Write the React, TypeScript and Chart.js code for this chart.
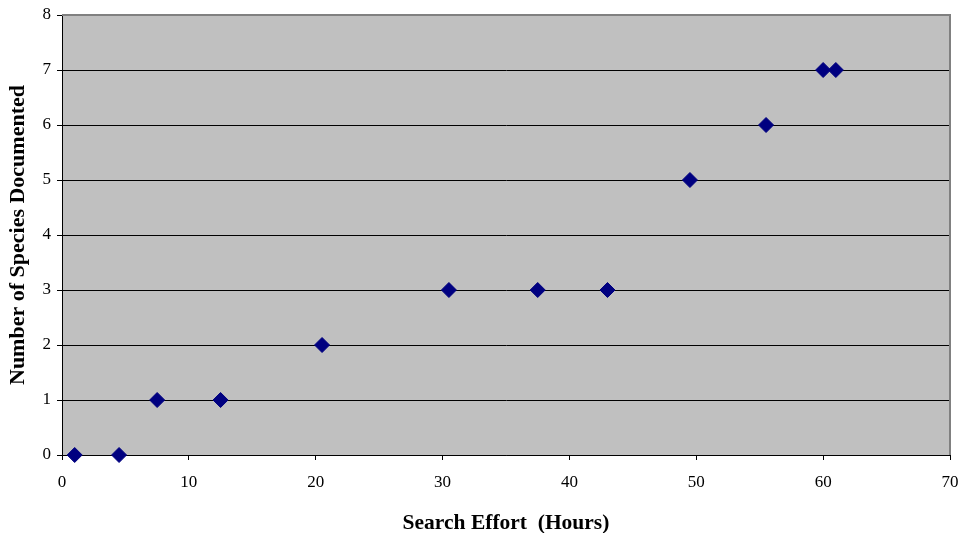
import React, { useEffect, useRef } from "react";
import { Chart, registerables } from "chart.js";

Chart.register(...registerables);

const effortHours = [1, 4.5, 7.5, 12.5, 20.5, 30.5, 37.5, 43, 49.5, 55.5, 60, 61];
const speciesCount = [0, 0, 1, 1, 2, 3, 3, 3, 5, 6, 7, 7];
const xTitle = "Search Effort  (Hours)";
const yTitle = "Number of Species Documented";

const plotFrame = {
  id: "plotFrame",
  beforeDraw(chart: any) {
    const { ctx, chartArea } = chart;
    ctx.save();
    ctx.fillStyle = "#c0c0c0";
    ctx.fillRect(chartArea.left, chartArea.top, chartArea.right - chartArea.left, chartArea.bottom - chartArea.top);
    ctx.restore();
  },
  beforeDatasetsDraw(chart: any) {
    const { ctx, chartArea } = chart;
    ctx.save();
    ctx.strokeStyle = "#808080";
    ctx.lineWidth = 2;
    ctx.beginPath();
    ctx.moveTo(chartArea.left, chartArea.top);
    ctx.lineTo(chartArea.right, chartArea.top);
    ctx.lineTo(chartArea.right, chartArea.bottom);
    ctx.stroke();
    ctx.restore();
  },
};

export default function App() {
  const ref = useRef<HTMLCanvasElement>(null);
  useEffect(() => {
    const data = effortHours.map((x, i) => ({ x, y: speciesCount[i] }));
    const chart = new Chart(ref.current!, {
      type: "scatter",
      data: {
        datasets: [
          {
            data,
            pointStyle: "rectRot",
            pointRadius: 7.5,
            pointHoverRadius: 7.5,
            backgroundColor: "#000080",
            borderColor: "#000080",
            borderWidth: 1,
            clip: false as any,
          },
        ],
      },
      plugins: [plotFrame],
      options: {
        animation: false,
        responsive: false,
        events: [],
        layout: { padding: { top: 15, right: 11, bottom: 0, left: 0 } },
        plugins: { legend: { display: false }, tooltip: { enabled: false } },
        scales: {
          x: {
            type: "linear",
            min: 0,
            max: 70,
            afterFit: (s: any) => {
              s.paddingLeft = 0;
              s.paddingRight = 0;
            },
            ticks: { stepSize: 10, color: "#000", padding: 12.8, font: { family: "Liberation Serif", size: 17 }, maxRotation: 0 },
            grid: { drawOnChartArea: false, drawTicks: true, tickLength: 5, color: "#000" },
            border: { color: "#000", width: 1 },
            title: {
              display: true,
              text: xTitle,
              color: "#000",
              font: { family: "Liberation Serif", size: 21.5, weight: "bold", lineHeight: 0.9 },
              padding: { top: 7.65, bottom: 0 },
            },
          },
          y: {
            type: "linear",
            min: 0,
            max: 8,
            afterFit: (s: any) => {
              s.paddingTop = 0;
              s.paddingBottom = 0;
            },
            ticks: { stepSize: 1, color: "#000", padding: 6, font: { family: "Liberation Serif", size: 17 } },
            grid: {
              color: (c: any) => (c.tick && c.tick.value === 8 ? "rgba(0,0,0,0)" : "#000"),
              tickColor: "#000",
              tickLength: 5,
              lineWidth: 1,
            },
            border: { color: "#000", width: 1 },
            title: {
              display: true,
              text: yTitle,
              color: "#000",
              font: { family: "Liberation Serif", size: 22, weight: "bold", lineHeight: 1 },
              padding: { top: 7.5, bottom: 7 },
            },
          },
        },
      },
    });
    return () => chart.destroy();
  }, []);
  return (
    <div style={{ position: "absolute", left: 0, top: 0, width: 961, height: 533, background: "#fff" }}>
      <canvas ref={ref} width={961} height={533} style={{ display: "block" }} />
    </div>
  );
}
